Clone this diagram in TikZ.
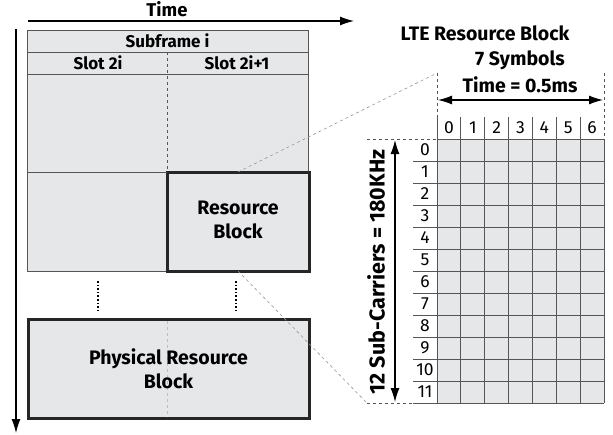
\documentclass[tikz,border=0pt]{standalone}
\usepackage{fontspec}
\setmainfont{Fira Sans}
\usetikzlibrary{arrows.meta,positioning}
\definecolor{cellgray}{RGB}{230,231,232}
\definecolor{linegray}{RGB}{85,85,85}
\definecolor{dashgray}{RGB}{150,150,150}

\begin{document}
\begin{tikzpicture}[x=1pt,y=-1pt,>={Latex[length=14pt,width=9pt]},
  box/.style={draw=linegray,fill=cellgray,line width=1pt,inner sep=0pt,outer sep=0pt},
  bigbox/.style={draw=black!85,fill=cellgray,line width=3pt,inner sep=0pt,outer sep=0pt},
  bigtext/.style={font=\bfseries\fontsize{19.5}{24}\selectfont,align=center},
  lbl/.style={font=\bfseries\fontsize{17}{20}\selectfont},
  toplbl/.style={font=\bfseries\fontsize{19.5}{22}\selectfont},
  num/.style={font=\fontsize{17.5}{20}\selectfont},
  link/.style={draw=dashgray,dashed,line width=0.6pt},
  gridline/.style={draw=linegray,line width=1pt}]

\useasboundingbox (0,0) rectangle (613,434);

% time axes
\coordinate (t0) at (28,21);
\coordinate (t1) at (354,21);
\coordinate (f0) at (16,29);
\coordinate (f1) at (16,433);
\node[font=\bfseries\fontsize{18.5}{20}\selectfont] (time) at (167,9) {Time};
\draw[->,line width=1.2pt] (t0) -- (t1);
\draw[->,line width=1.2pt] (f0) -- (f1);

% subframe
\node[box,minimum width=281pt,minimum height=241pt,anchor=north west] (frame) at (27,30) {};
\node[box,lbl,minimum width=281pt,minimum height=22pt,anchor=north west] (sub) at (frame.north west) {Subframe i};
\node[box,minimum width=281pt,minimum height=22pt,anchor=north west] (slots) at (sub.south west) {};
\node[lbl] (slot1) at (98,63) {Slot 2i};
\node[lbl] (slot2) at (237,63) {Slot 2i+1};

\node[bigbox,minimum width=142pt,minimum height=99pt,anchor=north west] (rb) at (167,172) {};
\node[bigtext] (rbtext) at (238,220) {Resource\\Block};
\draw[gridline] (frame.west |- rb.north) -- (rb.north west);
\draw[link,draw=linegray] (sub.south -| rb.north west) -- (rb.north west);

% more blocks below
\draw[dotted,line width=1.6pt] (98,281) -- (98,313);
\draw[dotted,line width=1.6pt] (236,281) -- (236,313);

\node[bigbox,minimum width=281pt,minimum height=99pt,anchor=north west] (prb) at (28,319) {};
\draw[link,draw=black!25,line width=1pt] (167,321) -- (167,417);
\node[bigtext] (prbtext) at (prb.center) {Physical Resource\\Block};

% LTE resource block grid
\node[toplbl] (lte) at (485,33) {LTE Resource Block};
\node[toplbl] (sym) at (520,60) {7 Symbols};
\node[toplbl] (dur) at (520,85) {Time = 0.5ms};

\fill[cellgray] (437,139) rectangle (604,403);
\foreach \i in {1,...,12}
  \draw[gridline] (413,139+22*\i) -- (604,139+22*\i);
\draw[gridline] (437,139) -- (604,139);
\foreach \j in {0,...,6}
  \draw[gridline] (437+167/7*\j,117) -- (437+167/7*\j,403);
\draw[gridline] (604,139) -- (604,403);
\foreach \j in {0,...,6}
  \node[num] (c\j) at (437+167/7*\j+167/14,128) {\j};
\foreach \i in {0,...,11}
  \node[num] (r\i) at (425,150+22*\i) {\i};

\coordinate (gl) at (437,73);
\coordinate (gr) at (604,73);
\coordinate (gt) at (367,139);
\coordinate (gb) at (367,403);
\draw[link,draw=linegray,line width=0.8pt] (gl) -- (437,117);
\draw[link,draw=linegray,line width=0.8pt] (gr) -- (604,139);
\draw[link,draw=linegray,line width=0.8pt] (gt) -- (437,139);
\draw[link,draw=linegray,line width=0.8pt] (gb) -- (413,403);
\draw[<->,line width=1.2pt] (438,100) -- (603,100);
\draw[<->,line width=1.2pt] (395,140) -- (395,402);
\node[rotate=90,font=\bfseries\fontsize{21.5}{24}\selectfont] (sc) at (376,272) {12 Sub-Carriers = 180KHz};

% zoom lines
\draw[link] (rb.north) -- (gl);
\draw[link] (rb.south) -- (gb);
\end{tikzpicture}
\end{document}
